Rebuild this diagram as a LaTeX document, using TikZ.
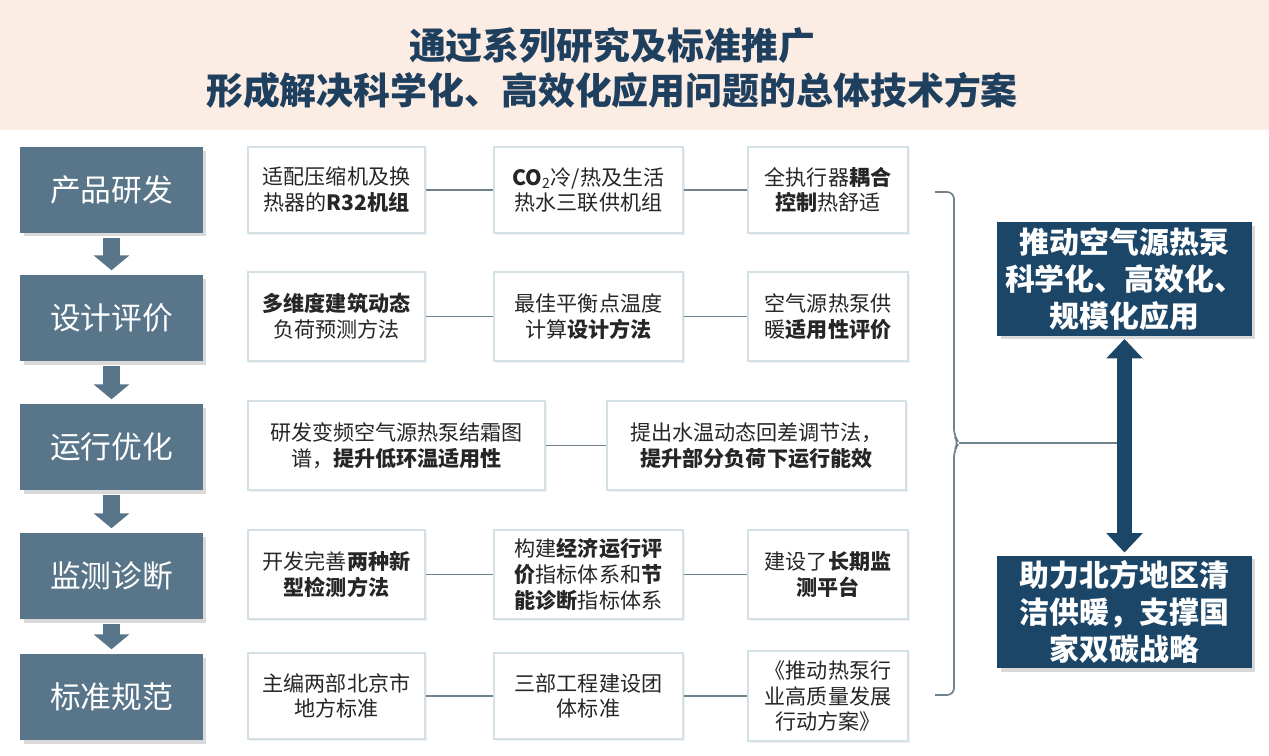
\documentclass[tikz,border=0pt]{standalone}
\usepackage{fontspec}
\setmainfont{Noto Sans CJK SC}
\usepackage{xcolor}
\usepackage{tikz}
\usetikzlibrary{arrows.meta,shadows}
\definecolor{slate}{HTML}{587589}
\definecolor{navy}{HTML}{1C4668}
\definecolor{ink}{HTML}{1F3F5E}
\definecolor{peach}{HTML}{FBECE4}
\definecolor{frame}{HTML}{D3E1E7}
\definecolor{wire}{HTML}{70838D}

\begin{document}
\begin{tikzpicture}[x=0.02cm,y=-0.02cm,
  stagebox/.style={rectangle,fill=slate,text=white,minimum width=3.66cm,minimum height=1.72cm,
    font=\fontsize{17.5}{20}\selectfont,inner sep=2pt,
    drop shadow={shadow xshift=2pt,shadow yshift=-2pt,opacity=0.3}},
  itembox/.style={rectangle,draw=frame,line width=0.9pt,fill=white,align=center,text=black!85,
    font=\fontsize{12}{14.7}\selectfont,inner sep=2pt,
    drop shadow={shadow xshift=1pt,shadow yshift=-1pt,opacity=0.12}},
  goalbox/.style={rectangle,fill=navy,text=white,align=center,minimum width=5.1cm,
    font=\fontsize{17}{21}\selectfont\bfseries,inner sep=2pt,
    drop shadow={shadow xshift=2pt,shadow yshift=-2pt,opacity=0.3}},
  downarrow/.style={draw=slate,line width=10pt,-{Triangle[width=20pt,length=8.5pt]},
    shorten <=2.8pt,shorten >=2.5pt},
  link/.style={draw=wire,line width=0.9pt},
  brace/.style={draw=wire,line width=1pt}]
\useasboundingbox (0,0) rectangle (1269,756);
% header
\fill[peach] (0,0) rectangle (1269,130);
\node[text=ink,align=center,font=\fontsize{21}{25.5}\selectfont\bfseries] (title) at (612,68)
  {通过系列研究及标准推广\\形成解决科学化、高效化应用问题的总体技术方案};

% left column
\node[stagebox] (s1) at (111.5,190) {产品研发};
\node[stagebox] (s2) at (111.5,318) {设计评价};
\node[stagebox] (s3) at (111.5,447) {运行优化};
\node[stagebox] (s4) at (111.5,576) {监测诊断};
\node[stagebox] (s5) at (111.5,697) {标准规范};
\foreach \a/\b in {s1/s2,s2/s3,s3/s4,s4/s5}
  \draw[downarrow] (\a) -- (\b);

% row 1
\node[itembox,minimum width=3.54cm,minimum height=1.72cm] (r1a) at (336.5,190) {适配压缩机及换\\热器的\textbf{R32机组}};
\node[itembox,minimum width=3.78cm,minimum height=1.72cm] (r1b) at (588.5,190) {\textbf{CO}\textsubscript{2}冷/热及生活\\热水三联供机组};
\node[itembox,minimum width=3.2cm,minimum height=1.72cm] (r1c) at (828,190) {全执行器\textbf{耦合}\\\textbf{控制}热舒适};
\draw[link] (r1a) -- (r1b);
\draw[link] (r1b) -- (r1c);

% row 2
\node[itembox,minimum width=3.54cm,minimum height=1.78cm] (r2a) at (336.5,316.5) {\textbf{多维度建筑动态}\\负荷预测方法};
\node[itembox,minimum width=3.78cm,minimum height=1.78cm] (r2b) at (588.5,316.5) {最佳平衡点温度\\计算\textbf{设计方法}};
\node[itembox,minimum width=3.2cm,minimum height=1.78cm] (r2c) at (828,316.5) {空气源热泵供\\暖\textbf{适用性评价}};
\draw[link] (r2a) -- (r2b);
\draw[link] (r2b) -- (r2c);

% row 3
\node[itembox,minimum width=5.94cm,minimum height=1.78cm] (r3a) at (396.5,445.5) {研发变频空气源热泵结霜图\\谱，\textbf{提升低环温适用性}};
\node[itembox,minimum width=5.98cm,minimum height=1.78cm] (r3b) at (756.5,445.5) {提出水温动态回差调节法，\\\textbf{提升部分负荷下运行能效}};
\draw[link] (r3a) -- (r3b);

% row 4
\node[itembox,minimum width=3.54cm,minimum height=1.78cm] (r4a) at (336.5,574.5) {开发完善\textbf{两种新}\\\textbf{型检测方法}};
\node[itembox,minimum width=3.78cm,minimum height=1.78cm] (r4b) at (588.5,574.5) {构建\textbf{经济运行评}\\\textbf{价}指标体系和\textbf{节}\\\textbf{能诊断}指标体系};
\node[itembox,minimum width=3.2cm,minimum height=1.78cm] (r4c) at (828,574.5) {建设了\textbf{长期监}\\\textbf{测平台}};
\draw[link] (r4a) -- (r4b);
\draw[link] (r4b) -- (r4c);

% row 5
\node[itembox,minimum width=3.54cm,minimum height=1.72cm] (r5a) at (336.5,696) {主编两部北京市\\地方标准};
\node[itembox,minimum width=3.78cm,minimum height=1.72cm] (r5b) at (588.5,696) {三部工程建设团\\体标准};
\node[itembox,minimum width=3.2cm,minimum height=1.8cm] (r5c) at (828,696) {《推动热泵行\\业高质量发展\\行动方案》};
\draw[link] (r5a) -- (r5b);
\draw[link] (r5b) -- (r5c);

% goals
\node[goalbox,minimum height=2.28cm] (g1) at (1124.5,279) {推动空气源热泵\\科学化、高效化、\\规模化应用};
\node[goalbox,minimum height=2.26cm] (g2) at (1124.5,612) {助力北方地区清\\洁供暖，支撑国\\家双碳战略};

% bracket
\draw[brace,rounded corners=4pt] (935,192) -- (954,192) -- (954,436) -- (959,443) -- (954,450) -- (954,695) -- (935,695);
\coordinate (bmid) at (959,443);
\draw[brace] (bmid) -- (bmid -| g1);
\draw[navy,line width=8.5pt,{Triangle[width=20pt,length=11pt]}-{Triangle[width=20pt,length=11pt]},shorten <=1.5pt,shorten >=1.5pt] (g1) -- (g2);
\end{tikzpicture}
\end{document}
